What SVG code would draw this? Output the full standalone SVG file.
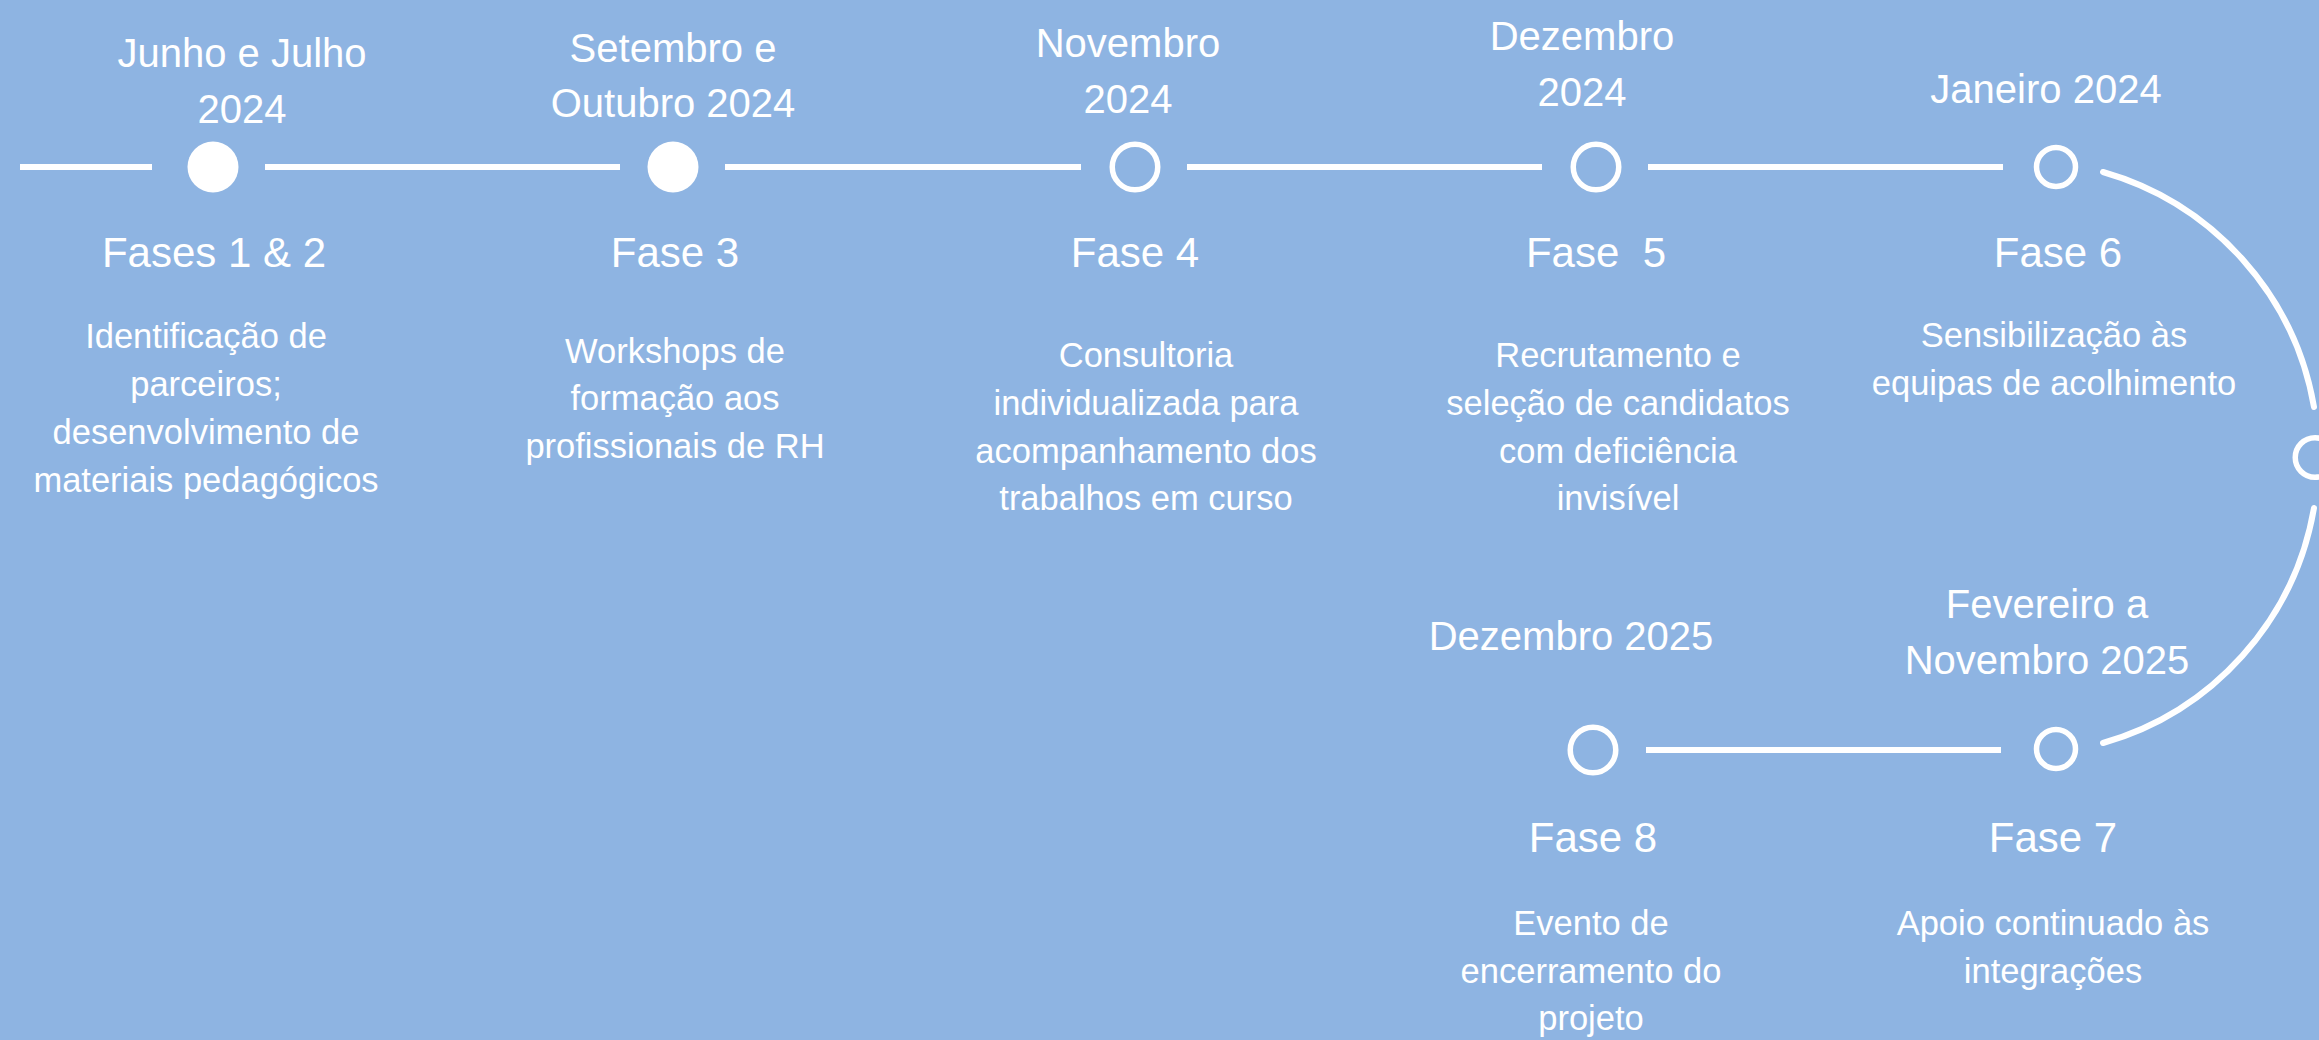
<svg xmlns="http://www.w3.org/2000/svg" width="2319" height="1040" viewBox="0 0 2319 1040">
<style>
text{font-family:"Liberation Sans",Arial,sans-serif;fill:#fff;text-anchor:middle}
.d{font-size:40px}
.t{font-size:42px}
.s{font-size:34.5px}
.ln{stroke:#fff;stroke-width:6;fill:none}
.arc{stroke:#fff;stroke-width:6;fill:none;stroke-linecap:round}
.ring{stroke:#fff;stroke-width:5.5;fill:none}
.dot{fill:#fff}
</style>
<rect width="2319" height="1040" fill="#8EB4E2"/>
<g id="connectors">
<line class="ln" x1="20" y1="167" x2="152" y2="167"/>
<line class="ln" x1="265" y1="167" x2="620" y2="167"/>
<line class="ln" x1="725" y1="167" x2="1081" y2="167"/>
<line class="ln" x1="1187" y1="167" x2="1542" y2="167"/>
<line class="ln" x1="1648" y1="167" x2="2003" y2="167"/>
<path class="arc" d="M2103,172 A297,297 0 0,1 2314,407"/>
<path class="arc" d="M2314,508 A297,297 0 0,1 2103,743"/>
<line class="ln" x1="1646" y1="750" x2="2001" y2="750"/>
</g>
<g id="phase1">
<circle class="dot" cx="213" cy="167" r="25.5"/>
<text class="d" x="242" y="67">Junho e Julho</text>
<text class="d" x="242" y="123">2024</text>
<text class="t" x="214" y="267">Fases 1 &amp; 2</text>
<text class="s" x="206" y="348">Identificação de</text>
<text class="s" x="206" y="396">parceiros;</text>
<text class="s" x="206" y="444">desenvolvimento de</text>
<text class="s" x="206" y="492">materiais pedagógicos</text>
</g>
<g id="phase3">
<circle class="dot" cx="673" cy="167" r="25.5"/>
<text class="d" x="673" y="62">Setembro e</text>
<text class="d" x="673" y="117">Outubro 2024</text>
<text class="t" x="675" y="267">Fase 3</text>
<text class="s" x="675" y="363">Workshops de</text>
<text class="s" x="675" y="410">formação aos</text>
<text class="s" x="675" y="458">profissionais de RH</text>
</g>
<g id="phase4">
<circle class="ring" cx="1135" cy="167" r="22.75"/>
<text class="d" x="1128" y="57">Novembro</text>
<text class="d" x="1128" y="113">2024</text>
<text class="t" x="1135" y="267">Fase 4</text>
<text class="s" x="1146" y="367">Consultoria</text>
<text class="s" x="1146" y="415">individualizada para</text>
<text class="s" x="1146" y="463">acompanhamento dos</text>
<text class="s" x="1146" y="510">trabalhos em curso</text>
</g>
<g id="phase5">
<circle class="ring" cx="1596" cy="167" r="22.75"/>
<text class="d" x="1582" y="50">Dezembro</text>
<text class="d" x="1582" y="106">2024</text>
<text class="t" x="1596" y="267" xml:space="preserve">Fase  5</text>
<text class="s" x="1618" y="367">Recrutamento e</text>
<text class="s" x="1618" y="415">seleção de candidatos</text>
<text class="s" x="1618" y="463">com deficiência</text>
<text class="s" x="1618" y="510">invisível</text>
</g>
<g id="phase6">
<circle class="ring" cx="2056" cy="167" r="19.5"/>
<text class="d" x="2046" y="103">Janeiro 2024</text>
<text class="t" x="2058" y="267">Fase 6</text>
<text class="s" x="2054" y="347">Sensibilização às</text>
<text class="s" x="2054" y="395">equipas de acolhimento</text>
</g>
<g id="turn">
<circle class="ring" cx="2315" cy="457.5" r="19.75"/>
</g>
<g id="phase7">
<circle class="ring" cx="2056" cy="749" r="19.5"/>
<text class="d" x="2047" y="618">Fevereiro a</text>
<text class="d" x="2047" y="674">Novembro 2025</text>
<text class="t" x="2053" y="852">Fase 7</text>
<text class="s" x="2053" y="935">Apoio continuado às</text>
<text class="s" x="2053" y="983">integrações</text>
</g>
<g id="phase8">
<circle class="ring" cx="1593" cy="750" r="22.75"/>
<text class="d" x="1571" y="650">Dezembro 2025</text>
<text class="t" x="1593" y="852">Fase 8</text>
<text class="s" x="1591" y="935">Evento de</text>
<text class="s" x="1591" y="983">encerramento do</text>
<text class="s" x="1591" y="1030">projeto</text>
</g>
</svg>
